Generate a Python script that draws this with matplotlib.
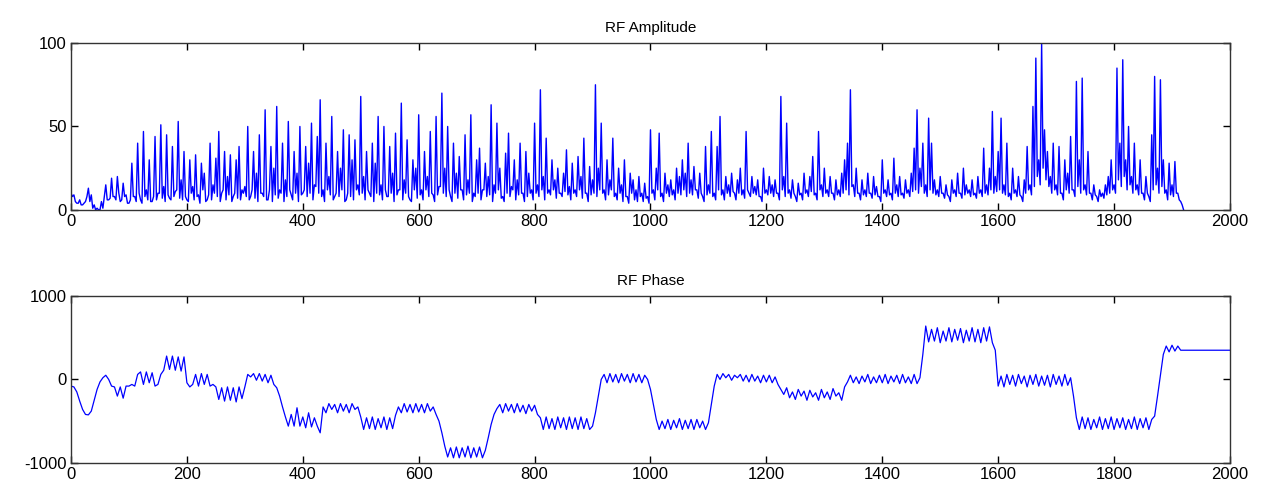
import numpy as np
import matplotlib
matplotlib.use("Agg")
import matplotlib.pyplot as plt

# RF amplitude, one value every 5 samples
amp_step = 5
amplitude = [
    10, 9, 4, 6, 3, 5, 13, 9, 3, 1, 0, 1, 15, 6, 19, 8, 20, 5, 16, 9,
    4, 28, 8, 40, 6, 47, 12, 30, 5, 44, 10, 51, 14, 45, 7, 38, 11, 53, 18, 35,
    6, 30, 14, 33, 9, 28, 22, 6, 40, 15, 31, 47, 10, 35, 20, 33, 8, 30, 38, 12,
    14, 50, 8, 35, 22, 45, 10, 60, 6, 38, 25, 62, 12, 40, 18, 53, 9, 35, 22, 50,
    10, 38, 28, 52, 15, 44, 66, 12, 40, 20, 56, 8, 35, 25, 48, 6, 45, 30, 42, 15,
    68, 20, 35, 10, 40, 28, 56, 15, 50, 8, 38, 22, 46, 12, 64, 18, 42, 6, 30, 25,
    57, 12, 35, 20, 47, 9, 56, 14, 70, 25, 50, 8, 40, 22, 32, 12, 45, 18, 57, 10,
    30, 37, 12, 28, 20, 63, 15, 52, 25, 8, 34, 46, 14, 30, 18, 40, 10, 35, 22, 12,
    52, 15, 72, 20, 43, 12, 30, 18, 25, 10, 22, 36, 14, 28, 12, 32, 20, 43, 10, 26,
    18, 75, 25, 52, 12, 30, 18, 43, 10, 25, 15, 30, 8, 22, 18, 12, 20, 10, 16, 8,
    48, 12, 25, 46, 10, 22, 15, 18, 12, 25, 20, 30, 22, 40, 18, 26, 12, 22, 8, 38,
    15, 47, 10, 38, 56, 12, 20, 15, 22, 10, 18, 25, 12, 47, 10, 20, 14, 18, 8, 25,
    12, 20, 15, 18, 10, 68, 20, 52, 12, 18, 8, 16, 10, 22, 12, 20, 32, 10, 47, 15,
    25, 12, 20, 10, 18, 12, 22, 30, 40, 72, 15, 25, 10, 18, 12, 22, 10, 20, 14, 8,
    30, 12, 18, 10, 31, 15, 20, 10, 18, 12, 22, 37, 60, 25, 40, 15, 55, 40, 18, 12,
    20, 10, 15, 8, 18, 12, 22, 10, 25, 15, 12, 18, 10, 20, 12, 37, 15, 25, 59, 20,
    35, 55, 15, 40, 10, 25, 12, 20, 8, 18, 38, 15, 62, 91, 30, 100, 48, 35, 20, 40,
    15, 38, 10, 30, 22, 44, 12, 77, 30, 79, 15, 35, 10, 15, 8, 12, 10, 15, 20, 30,
    15, 85, 40, 90, 30, 50, 20, 40, 15, 30, 10, 20, 8, 45, 80, 25, 78, 30, 12, 28,
    15, 29, 10, 5, 0,
]

# the low samples half way between the ones above (bottom of the spikes)
amplitude_between = [
    8, 5, 4, 3, 4, 8, 5, 1, 0, 0, 5, 8, 6, 7, 8, 6, 10, 6, 8, 4,
    6, 8, 5, 10, 4, 8, 6, 5, 8, 6, 10, 7, 5, 9, 6, 8, 12, 7, 6, 8,
    5, 10, 6, 8, 4, 12, 5, 9, 6, 10, 8, 5, 12, 6, 9, 5, 10, 7, 6, 10,
    8, 6, 12, 7, 5, 10, 8, 6, 12, 5, 9, 7, 10, 5, 8, 12, 6, 10, 5, 9,
    12, 8, 10, 6, 14, 10, 8, 5, 12, 9, 6, 10, 8, 12, 5, 10, 8, 6, 12, 9,
    10, 6, 12, 8, 5, 10, 9, 6, 12, 8, 10, 5, 9, 12, 6, 10, 8, 5, 12, 7,
    9, 6, 12, 8, 10, 5, 9, 14, 10, 8, 12, 5, 10, 7, 12, 6, 9, 10, 5, 8,
    10, 6, 12, 8, 9, 5, 10, 12, 7, 5, 10, 8, 12, 6, 9, 10, 5, 8, 10, 6,
    10, 8, 12, 6, 10, 9, 12, 7, 10, 8, 11, 9, 6, 10, 8, 12, 7, 10, 5, 9,
    10, 8, 12, 10, 6, 9, 12, 8, 6, 10, 5, 8, 4, 10, 6, 5, 8, 5, 7, 4,
    10, 6, 12, 8, 5, 10, 8, 9, 6, 10, 9, 12, 8, 10, 9, 12, 7, 10, 5, 9,
    10, 8, 6, 12, 9, 6, 10, 8, 11, 6, 10, 9, 7, 12, 8, 10, 9, 8, 5, 10,
    9, 10, 8, 10, 6, 12, 8, 10, 7, 10, 5, 9, 6, 10, 8, 11, 9, 6, 12, 8,
    10, 8, 10, 6, 9, 8, 10, 12, 9, 14, 8, 10, 6, 9, 8, 10, 7, 9, 8, 5,
    10, 8, 9, 6, 10, 8, 9, 7, 10, 8, 11, 12, 10, 14, 10, 8, 12, 10, 9, 8,
    10, 7, 9, 5, 10, 8, 10, 7, 9, 10, 8, 9, 7, 10, 8, 10, 9, 12, 10, 11,
    12, 10, 9, 8, 6, 10, 8, 9, 5, 10, 12, 9, 14, 20, 15, 25, 18, 14, 10, 12,
    9, 10, 6, 12, 10, 12, 8, 14, 10, 12, 9, 10, 6, 9, 5, 8, 7, 9, 10, 12,
    10, 18, 14, 20, 12, 15, 10, 12, 9, 10, 6, 10, 5, 12, 15, 10, 14, 10, 6, 9,
    8, 10, 6, 3,
]

# RF phase, one value every 5 samples, then held flat to the end
phase_step = 5
phase = [
    -80, -90, -150, -260, -360, -420, -425, -380, -250, -120, -30, 20, 50, 0, -80, -90, -200, -90, -225, -80,
    -80, -60, -80, 60, 90, -60, 90, -40, 80, -80, -60, 60, 110, 280, 120, 280, 110, 270, 100, 270,
    -40, -90, -60, 60, -80, 70, -60, 60, -80, -60, -90, -240, -100, -260, -90, -250, -100, -270, -90, -230,
    -90, 60, 30, 70, -10, 70, -20, 60, -40, 50, -60, -100, -200, -330, -450, -560, -420, -560, -340, -560,
    -450, -580, -400, -570, -460, -560, -640, -330, -400, -290, -360, -300, -400, -290, -380, -300, -400, -290, -360, -330,
    -450, -600, -460, -590, -450, -600, -470, -580, -450, -600, -460, -590, -430, -330, -400, -290, -390, -300, -400, -290,
    -390, -300, -400, -290, -380, -330, -420, -500, -640, -800, -930, -820, -940, -810, -940, -820, -930, -800, -940, -820,
    -930, -810, -940, -850, -700, -540, -420, -350, -300, -400, -290, -380, -300, -400, -290, -390, -310, -410, -300, -380,
    -310, -420, -460, -600, -450, -590, -470, -600, -450, -580, -460, -600, -450, -590, -460, -600, -450, -590, -470, -600,
    -560, -400, -200, 0, 60, -40, 70, -30, 60, -40, 70, -20, 60, -40, 70, -30, 60, -40, 50, 0,
    -120, -300, -480, -600, -500, -590, -480, -600, -490, -580, -470, -600, -490, -590, -480, -600, -480, -580, -500, -600,
    -520, -300, -80, 60, 0, 70, 20, 60, -10, 50, 20, 60, -20, 50, -30, 60, -20, 40, -40, 50,
    -30, 50, -40, 30, -60, -120, -180, -100, -220, -150, -240, -120, -200, -140, -250, -130, -210, -160, -250, -120,
    -220, -150, -240, -110, -200, -160, -250, -90, -30, 50, -40, 30, -50, 40, -30, 60, -50, 30, -40, 50,
    -40, 60, -50, 40, -30, 50, -50, 60, -40, 30, -50, 60, -50, 20, 300, 640, 450, 600, 460, 620,
    440, 580, 460, 620, 450, 600, 470, 610, 440, 590, 460, 620, 450, 600, 440, 620, 460, 630, 440, 350,
    -80, 40, -90, 60, -60, 50, -80, 60, -50, 40, -90, 50, -60, 60, -80, 40, -70, 50, -90, 60,
    -60, 40, -80, 60, -70, 20, -200, -460, -600, -450, -590, -460, -600, -480, -580, -450, -600, -470, -590, -450,
    -600, -470, -580, -460, -600, -480, -590, -450, -600, -470, -580, -460, -600, -480, -440, -200, 50, 300, 400, 330,
    410, 340, 400, 350,
]
phase_end_x = 2000
phase_end_val = 350

xticks = list(range(0, 2001, 200))

plt.rcParams['font.family'] = ['Liberation Sans', 'DejaVu Sans']
plt.rcParams['axes.unicode_minus'] = False

fig = plt.figure(figsize=(12.68, 4.95), dpi=100)
ax1 = fig.add_axes([0.056, 0.576, 0.914, 0.337])
ax2 = fig.add_axes([0.056, 0.065, 0.914, 0.337])

# merge the two amplitude lists into one series ordered by sample
amp_x = np.concatenate([np.arange(len(amplitude)) * amp_step,
                        np.arange(len(amplitude_between)) * amp_step + amp_step / 2])
amp_y = np.concatenate([amplitude, amplitude_between])
order = np.argsort(amp_x)
ax1.plot(amp_x[order], amp_y[order], color=(0, 0, 1), lw=1.0)
ax1.set_ylim(0, 100)
ax1.set_yticks([0, 50, 100])
ax1.set_title("RF Amplitude", fontsize=11, pad=8)

phase_x = list(np.arange(len(phase)) * phase_step) + [phase_end_x]
ax2.plot(phase_x, phase + [phase_end_val], color=(0, 0, 1), lw=0.9)
ax2.set_ylim(-1000, 1000)
ax2.set_yticks([-1000, 0, 1000])
ax2.set_title("RF Phase", fontsize=11, pad=8)

for ax in (ax1, ax2):
    ax.set_xlim(0, 2000)
    ax.set_xticks(xticks)
    ax.tick_params(direction="in", top=True, right=True, length=5, width=1,
                   labelsize=12, pad=3)
    for s in ax.spines.values():
        s.set_linewidth(1)
        s.set_color("#333333")

fig.savefig("out.png", dpi=100)
